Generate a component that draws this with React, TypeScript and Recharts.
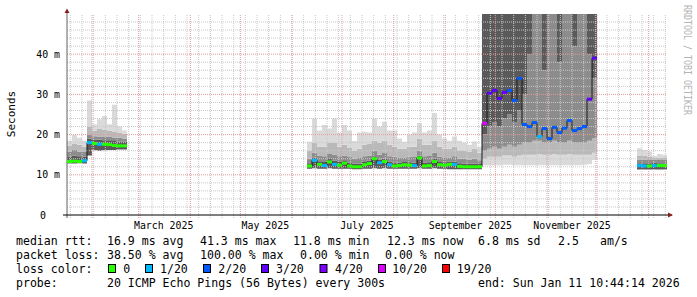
import {
  ComposedChart,
  Area,
  Line,
  Scatter,
  XAxis,
  YAxis,
  ReferenceLine,
  ReferenceDot,
} from 'recharts';

const MONO = '"DejaVu Sans Mono", monospace';

// day 0 = left edge of the graph, 360 days shown up to Jan 11 2026, 3 day buckets
const bucketDay = [
  0, 3, 6, 9, 12, 15, 18, 21, 24, 27, 30, 33,
  144, 147, 150, 153, 156, 159, 162, 165, 168, 171, 174, 177, 180, 183, 186, 189, 192, 195,
  198, 201, 204, 207, 210, 213, 216, 219, 222, 225, 228, 231, 234, 237, 240, 243, 246,
  249, 252, 255, 258, 261, 264, 267, 270, 273, 276, 279, 282, 285, 288, 291, 294, 297, 300,
  303, 306, 309, 312, 315,
  342, 345, 348, 351, 354, 357,
];

// median rtt in ms
const medianMs = [
  13.3, 13.4, 13.3, 13.5, 18.0, 17.8, 17.6, 17.6, 17.5, 17.3, 17.2, 17.2,
  12.2, 13.6, 12.6, 12.3, 13.2, 12.6, 12.4, 12.9, 12.2, 12.0, 12.0, 12.5, 12.8, 14.0, 13.0, 13.3,
  12.5, 12.2, 12.3, 12.5, 12.4, 12.3, 14.2, 12.2, 12.3, 13.3, 12.5, 12.4, 12.6, 12.6, 12.1, 12.0,
  12.0, 12.0, 12.0,
  22.8, 30.3, 31.0, 29.0, 30.5, 31.0, 28.5, 34.0, 22.5, 22.0, 23.0, 19.5, 21.5, 19.0, 21.8, 20.5,
  21.6, 23.5, 21.0, 21.5, 22.0, 28.8, 39.0,
  12.3, 12.2, 12.2, 12.3, 12.3, 12.3,
];

// lost pings out of 20
const lossCount = [
  0, 0, 0, 1, 1, 0, 1, 0, 0, 0, 0, 0,
  0, 1, 0, 1, 0, 1, 0, 0, 0, 0, 0, 0, 0, 0, 1, 0, 1, 0, 0, 0, 0, 1, 0, 0, 0, 0, 0, 0, 0, 1, 0,
  0, 0, 0, 0,
  10, 3, 3, 3, 3, 2, 2, 2, 2, 2, 2, 1, 2, 2, 2, 2, 2, 2, 2, 2, 2, 3, 3,
  1, 1, 0, 1, 0, 0,
];

// smoke band edges (ms), from the fastest ping upwards
const edge0 = [
  12.8, 12.8, 12.9, 12.8, 14.8, 16.1, 16.0, 16.1, 16.2, 16.2, 16.3, 16.3,
  11.5, 11.6, 11.5, 11.5, 11.6, 11.5, 11.5, 11.5, 11.5, 11.4, 11.4, 11.5, 11.5, 11.6, 11.5, 11.6,
  11.5, 11.5, 11.5, 11.5, 11.5, 11.5, 11.6, 11.5, 11.5, 11.6, 11.5, 11.5, 11.4, 11.4, 11.4, 11.4,
  11.4, 11.4, 11.4,
  12.4, 12.4, 12.4, 12.4, 12.5, 12.5, 12.4, 12.4, 12.4, 12.4, 12.4, 12.4, 12.4, 12.4, 12.4, 12.4,
  12.4, 12.4, 12.4, 12.4, 12.5, 12.6, 13.7,
  11.3, 11.3, 11.3, 11.3, 11.3, 11.3,
];
const edge1 = [
  12.8, 12.8, 12.9, 12.8, 14.8, 16.1, 16.0, 16.1, 16.2, 16.2, 16.3, 16.3,
  11.5, 11.6, 11.5, 11.5, 11.6, 11.5, 11.5, 11.5, 11.5, 11.4, 11.4, 11.5, 11.5, 11.6, 11.5, 11.6,
  11.5, 11.5, 11.5, 11.5, 11.5, 11.5, 11.6, 11.5, 11.5, 11.6, 11.5, 11.5, 11.4, 11.4, 11.4, 11.4,
  11.4, 11.4, 11.4,
  14.0, 14.5, 14.5, 14.5, 14.8, 14.8, 14.5, 14.8, 15.0, 15.0, 15.0, 15.2, 15.0, 15.0, 15.2, 15.0,
  15.0, 15.2, 15.0, 15.0, 15.0, 15.0, 15.5,
  11.3, 11.3, 11.3, 11.3, 11.3, 11.3,
];
const edge2 = [
  12.8, 12.8, 12.9, 12.8, 14.8, 16.1, 16.0, 16.1, 16.2, 16.2, 16.3, 16.3,
  11.5, 11.6, 11.5, 11.5, 11.6, 11.5, 11.5, 11.5, 11.5, 11.4, 11.4, 11.5, 11.5, 11.6, 11.5, 11.6,
  11.5, 11.5, 11.5, 11.5, 11.5, 11.5, 11.6, 11.5, 11.5, 11.6, 11.5, 11.5, 11.4, 11.4, 11.4, 11.4,
  11.4, 11.4, 11.4,
  16.0, 16.5, 17.0, 16.5, 17.0, 17.5, 17.0, 17.5, 18.0, 18.0, 18.5, 18.5, 18.0, 18.0, 18.5, 18.0,
  18.0, 18.5, 18.0, 18.0, 18.0, 18.5, 19.0,
  11.3, 11.3, 11.3, 11.3, 11.3, 11.3,
];
const edge3 = [
  12.8, 12.8, 12.9, 12.8, 14.8, 16.1, 16.0, 16.1, 16.2, 16.2, 16.3, 16.3,
  11.5, 11.6, 11.5, 11.5, 11.6, 11.5, 11.5, 11.5, 11.5, 11.4, 11.4, 11.5, 11.5, 11.6, 11.5, 11.6,
  11.5, 11.5, 11.5, 11.5, 11.5, 11.5, 11.6, 11.5, 11.5, 11.6, 11.5, 11.5, 11.4, 11.4, 11.4, 11.4,
  11.4, 11.4, 11.4,
  20.0, 22.0, 23.0, 22.0, 24.0, 25.0, 23.0, 26.0, 30.0, 40.0, 50, 50, 36.0, 50, 50, 38.0,
  50, 50, 42.0, 50, 50, 40.0, 34.0,
  11.3, 11.3, 11.3, 11.3, 11.3, 11.3,
];
const edge4 = [
  14.5, 14.8, 14.6, 14.5, 19.0, 18.8, 18.7, 18.6, 18.6, 18.4, 18.3, 18.2,
  12.9, 14.3, 13.4, 13.2, 13.9, 13.5, 13.2, 13.6, 13.0, 12.8, 12.8, 13.2, 13.5, 14.6, 13.8, 14.0,
  13.3, 13.0, 13.0, 13.2, 13.1, 13.0, 14.8, 13.0, 13.1, 14.0, 13.2, 13.1, 13.3, 13.3, 12.9, 12.8,
  12.8, 12.8, 12.7,
  50, 50, 50, 50, 50, 50, 50, 50, 50, 50, 50, 50, 50, 50, 50, 50, 50, 50, 50, 50, 50, 50, 50,
  12.9, 12.9, 12.9, 13.0, 12.9, 12.9,
];
const edge5 = [
  15.8, 16.2, 15.8, 15.7, 20.0, 19.6, 19.5, 19.4, 19.5, 19.3, 19.2, 19.0,
  14.0, 15.5, 14.8, 14.6, 15.2, 15.0, 14.6, 14.8, 14.4, 14.0, 14.2, 14.6, 14.8, 16.0, 15.0, 15.4,
  14.6, 14.5, 14.2, 14.3, 14.5, 14.4, 16.0, 14.6, 14.7, 15.5, 14.5, 14.2, 14.3, 14.6, 14.0, 14.0,
  13.8, 14.0, 13.6,
  50, 50, 50, 50, 50, 50, 50, 50, 50, 50, 50, 50, 50, 50, 50, 50, 50, 50, 50, 50, 50, 50, 50,
  13.8, 13.8, 13.7, 13.8, 13.7, 13.7,
];
const edge6 = [
  17.2, 17.8, 17.5, 17.0, 22.0, 21.0, 21.5, 21.2, 21.0, 20.8, 20.5, 20.2,
  16.0, 18.0, 17.0, 17.0, 18.0, 18.0, 17.0, 17.5, 16.8, 16.0, 16.5, 17.5, 17.8, 18.5, 18.0, 18.5,
  17.5, 17.0, 16.5, 16.5, 17.0, 17.0, 19.0, 17.5, 17.5, 18.5, 17.0, 16.5, 16.5, 17.0, 16.0, 16.0,
  15.8, 16.5, 15.5,
  50, 50, 50, 50, 50, 50, 50, 50, 50, 50, 50, 50, 50, 50, 50, 50, 50, 50, 50, 50, 50, 50, 50,
  14.8, 14.8, 14.5, 14.2, 14.3, 14.3,
];
const edge7 = [
  18.5, 19.9, 19.2, 18.5, 28.5, 22.5, 23.8, 24.6, 22.6, 27.4, 22.0, 21.0,
  18.2, 24.0, 21.0, 22.4, 21.5, 24.0, 20.5, 22.4, 21.0, 18.4, 20.5, 20.7, 20.5, 24.0, 22.0, 23.2,
  21.0, 21.0, 19.0, 18.2, 20.0, 20.5, 22.9, 20.5, 21.0, 25.4, 20.0, 19.0, 18.5, 19.5, 18.5, 18.0,
  17.5, 18.3, 17.0,
  50, 50, 50, 50, 50, 50, 50, 50, 50, 50, 50, 50, 50, 50, 50, 50, 50, 50, 50, 50, 50, 50, 50,
  16.6, 16.2, 15.8, 14.7, 15.2, 15.0,
];

const smokeEdges = [edge0, edge1, edge2, edge3, edge4, edge5, edge6, edge7];
const smokeColors = ['#dadada', '#b9b9b9', '#8c8c8c', '#5a5a5a', '#8c8c8c', '#b9b9b9', '#dadada'];

const xTickDays = [58, 119, 180, 242, 303];
const xTickLabels = ['March 2025', 'May 2025', 'July 2025', 'September 2025', 'November 2025'];
const monthStartDays = [15, 43, 74, 104, 135, 165, 196, 227, 257, 288, 318, 349];
const weekStartDays = Array.from({ length: 52 }, (_, i) => 2 + 7 * i);
const yTicks = [0, 10, 20, 30, 40];
const minorMs = Array.from({ length: 24 }, (_, i) => 2 + 2 * i).filter((v) => v % 10 !== 0);

const lossSteps = [0, 1, 2, 3, 4, 10, 19];
const lossLabels = ['0', '1/20', '2/20', '3/20', '4/20', '10/20', '19/20'];
const lossColors = ['#26ff00', '#00b8ff', '#0059ff', '#5e00ff', '#7e00ff', '#dd00ff', '#ff0000'];

const legendLines = [
  [
    ['median rtt:', 16],
    ['16.9 ms avg', 107],
    ['41.3 ms max', 200],
    ['11.8 ms min', 293],
    ['12.3 ms now', 387],
    ['6.8 ms sd', 478],
    ['2.5', 558],
    ['am/s', 600],
  ],
  [
    ['packet loss:', 16],
    ['38.50 % avg', 107],
    ['100.00 % max', 200],
    ['0.00 % min', 300],
    ['0.00 % now', 385],
  ],
  [['loss color:', 16]],
  [
    ['probe:', 16],
    ['20 ICMP Echo Pings (56 Bytes) every 300s', 107],
    ['end: Sun Jan 11 10:44:14 2026', 478],
  ],
] as [string, number][][];
const legendBaselines = [245, 259, 273.2, 286.8];
const lossBoxX = [108.5, 145.5, 203.5, 261.5, 320, 378.5, 442.5];
const lossTextX = [123.3, 160, 218.3, 276, 335, 392.3, 456.7];

function lossLevel(loss: number) {
  let idx = 0;
  lossSteps.forEach((s, i) => {
    if (loss >= s) idx = i;
  });
  return idx;
}

function makeRow(i: number, day: number, withMark: boolean) {
  const row: Record<string, any> = { day, median: medianMs[i] };
  for (let b = 0; b < 7; b++) row[`band${b}`] = [smokeEdges[b][i], smokeEdges[b + 1][i]];
  if (withMark) row[`mark${lossLevel(lossCount[i])}`] = medianMs[i];
  return row;
}

const rows: Record<string, any>[] = [];
bucketDay.forEach((day, i) => {
  rows.push(makeRow(i, day, true));
  const next = bucketDay[i + 1];
  if (next !== day + 3) {
    rows.push(makeRow(i, day + 3, false));
    if (next !== undefined) rows.push({ day: day + 3 });
  }
});

function XTick({ x, y, payload }: any) {
  const i = xTickDays.indexOf(payload.value);
  return (
    <text x={x} y={y + 13.5} textAnchor="middle" fontFamily={MONO} fontSize={9.9} fill="#000">
      {xTickLabels[i]}
    </text>
  );
}

function YTick({ x, y, payload }: any) {
  const v = payload.value;
  return (
    <text x={v === 0 ? x - 21 : x - 7} y={y + 3.5} textAnchor="end" fontFamily={MONO} fontSize={9.9} fill="#000">
      {v === 0 ? '0' : `${v} m`}
    </text>
  );
}

const chartMargin = { top: 14, right: 30, bottom: 52, left: 0 };

// both layers share the same axes so the grid can be painted over the smoke
function axes(showTicks: boolean) {
  return [
    <XAxis
      key="x"
      dataKey="day"
      type="number"
      domain={[0, 360]}
      allowDataOverflow
      ticks={xTickDays}
      interval={0}
      tick={showTicks ? <XTick /> : false}
      tickSize={0}
      tickMargin={0}
      axisLine={false}
      tickLine={false}
      height={30}
    />,
    <YAxis
      key="y"
      type="number"
      domain={[0, 50]}
      allowDataOverflow
      ticks={yTicks}
      interval={0}
      tick={showTicks ? <YTick /> : false}
      tickSize={0}
      tickMargin={0}
      axisLine={false}
      tickLine={false}
      width={67}
    />,
  ];
}

export default function App() {
  return (
    <div style={{ position: 'absolute', left: 0, top: 0, width: 697, height: 297, background: '#fff' }}>
      <div style={{ position: 'absolute', left: 0, top: 0 }}>
        <ComposedChart width={697} height={297} data={rows} margin={chartMargin}>
          {axes(false)}
          {smokeColors.map((c, b) => (
            <Area
              key={`band${b}`}
              dataKey={`band${b}`}
              type="stepAfter"
              fill={c}
              fillOpacity={1}
              stroke="none"
              isAnimationActive={false}
              activeDot={false}
            />
          ))}
        </ComposedChart>
      </div>
      <div style={{ position: 'absolute', left: 0, top: 0 }}>
        <ComposedChart width={697} height={297} data={rows} margin={chartMargin}>
          {axes(true)}
          {minorMs.map((v) => (
            <ReferenceLine key={`hm${v}`} y={v} stroke="#c8c8c8" strokeDasharray="1 1" />
          ))}
          {weekStartDays.map((d) => (
            <ReferenceLine
              key={`vw${d}`}
              segment={[{ x: d, y: -0.75 }, { x: d, y: 50 }]}
              stroke="#c8c8c8"
              strokeDasharray="1 1"
              ifOverflow="visible"
            />
          ))}
          {[10, 20, 30, 40].map((v) => (
            <ReferenceLine key={`hM${v}`} y={v} stroke="#e39a9a" strokeDasharray="1 1" />
          ))}
          {monthStartDays.map((d) => (
            <ReferenceLine
              key={`vM${d}`}
              segment={[{ x: d, y: -0.75 }, { x: d, y: 50 }]}
              stroke="#e39a9a"
              strokeDasharray="1 1"
              ifOverflow="visible"
            />
          ))}
          <ReferenceLine
            segment={[{ x: 0, y: -0.75 }, { x: 0, y: 50.5 }]}
            stroke="#606060"
            ifOverflow="visible"
          />
          <ReferenceLine
            segment={[{ x: -2.4, y: 0 }, { x: 363, y: 0 }]}
            stroke="#000"
            ifOverflow="visible"
          />
          <ReferenceDot
            x={0}
            y={50}
            ifOverflow="visible"
            shape={(p: any) => (
              <polygon
                points={`${p.cx - 2.5},${p.cy - 1} ${p.cx + 2.5},${p.cy - 1} ${p.cx},${p.cy - 5.5}`}
                fill="#8b1c1c"
              />
            )}
          />
          <ReferenceDot
            x={360}
            y={0}
            ifOverflow="visible"
            shape={(p: any) => (
              <polygon
                points={`${p.cx + 1},${p.cy - 2.5} ${p.cx + 1},${p.cy + 2.5} ${p.cx + 6},${p.cy}`}
                fill="#8b1c1c"
              />
            )}
          />
          <Line
            dataKey="median"
            type="stepAfter"
            stroke="#1a1a1a"
            strokeWidth={1}
            dot={false}
            activeDot={false}
            isAnimationActive={false}
          />
          {lossColors.map((c, li) => (
            <Scatter
              key={`loss${li}`}
              dataKey={`mark${li}`}
              fill={c}
              isAnimationActive={false}
              shape={(p: any) =>
                Number.isFinite(p.cx) && Number.isFinite(p.cy) ? (
                  <rect x={p.cx} y={p.cy - 1.5} width={5} height={3} fill={c} />
                ) : (
                  <g />
                )
              }
            />
          ))}
        </ComposedChart>
      </div>
      <svg
        width={697}
        height={297}
        style={{ position: 'absolute', left: 0, top: 0, pointerEvents: 'none' }}
      >
        <text
          transform="translate(15,114) rotate(-90)"
          textAnchor="middle"
          fontFamily={MONO}
          fontSize={11}
          fill="#000"
        >
          Seconds
        </text>
        <text
          transform="translate(683.5,5) rotate(90)"
          fontFamily={MONO}
          fontSize={10.5}
          textLength={110}
          lengthAdjust="spacingAndGlyphs"
          fill="#b5b5b5"
        >
          RRDTOOL / TOBI OETIKER
        </text>
        {legendLines.map((line, li) =>
          line.map(([t, x]) => (
            <text
              key={`${li}-${t}`}
              x={x}
              y={legendBaselines[li]}
              fontFamily={MONO}
              fontSize={11.55}
              fill="#000"
              style={{ whiteSpace: 'pre' }}
            >
              {t}
            </text>
          )),
        )}
        {lossLabels.map((label, i) => (
          <g key={label}>
            <rect x={lossBoxX[i]} y={264.5} width={7} height={8} fill={lossColors[i]} stroke="#000" strokeWidth={1} />
            <text x={lossTextX[i]} y={legendBaselines[2]} fontFamily={MONO} fontSize={11.55} fill="#000">
              {label}
            </text>
          </g>
        ))}
      </svg>
    </div>
  );
}
